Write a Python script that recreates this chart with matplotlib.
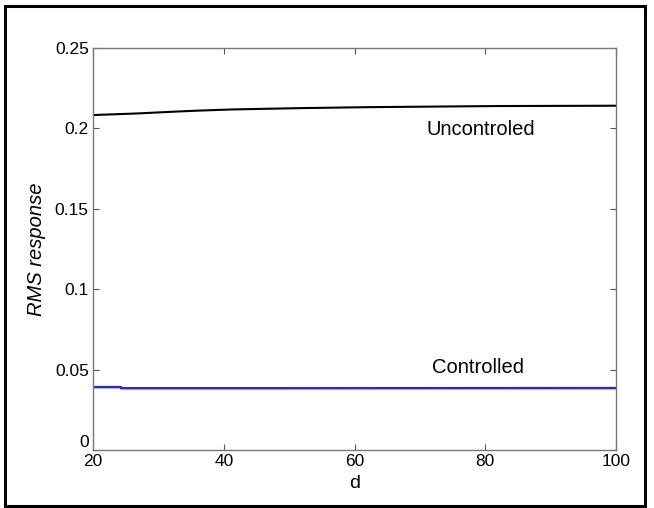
import matplotlib
matplotlib.use("Agg")
import matplotlib.pyplot as plt
from matplotlib.patches import Rectangle

plt.rcParams['font.family'] = ['Liberation Sans', 'DejaVu Sans']

# data
d_unc = [20, 26.8, 31.3, 35.7, 41.4, 51.6, 61.8, 81.6, 100]
rms_unc = [0.2083, 0.2093, 0.2102, 0.2110, 0.2118, 0.2126, 0.2132, 0.2139, 0.2141]
d_ctl = [20, 24.3, 24.3, 45, 100]
rms_ctl = [0.0391, 0.0391, 0.0384, 0.0384, 0.0385]

xticks = [20, 40, 60, 80, 100]
yticks = [0, 0.05, 0.1, 0.15, 0.2, 0.25]
ytick_labels = ['0', '0.05', '0.1', '0.15', '0.2', '0.25']

fig = plt.figure(figsize=(6.54, 5.08), dpi=100)
ax = fig.add_axes([0.1422, 0.1142, 0.7998, 0.7913])

ax.plot(d_unc, rms_unc, color='black', lw=1.5)
ax.plot(d_ctl, rms_ctl, color='#2b2bc8', lw=1.8)

ax.text(79.3, 0.1995, 'Uncontroled', ha='center', va='center', fontsize=14.5)
ax.text(78.9, 0.0515, 'Controlled', ha='center', va='center', fontsize=14.5)

ax.set_xlim(20, 100)
ax.set_ylim(0, 0.25)
ax.set_xticks(xticks)
ax.set_yticks(yticks)
ax.set_yticklabels(ytick_labels)
ax.tick_params(direction='in', top=True, right=True, length=4, width=0.8,
               color='#555555', labelsize=12.5, pad=3)
# the zero label sits just above the corner, as in the reference
ax.get_yticklabels()[0].set_verticalalignment('bottom')
for s in ax.spines.values():
    s.set_color('#777777')
    s.set_linewidth(1.0)

ax.set_xlabel('d', fontsize=14, labelpad=4)
ax.set_ylabel('RMS response', fontsize=14.5, style='italic', labelpad=6)

fig.patches.append(Rectangle((5 / 654, 2 / 508), 640 / 654, 500 / 508,
                             transform=fig.transFigure, fill=False,
                             edgecolor='black', lw=2.2))

fig.savefig('out.png', dpi=100)
